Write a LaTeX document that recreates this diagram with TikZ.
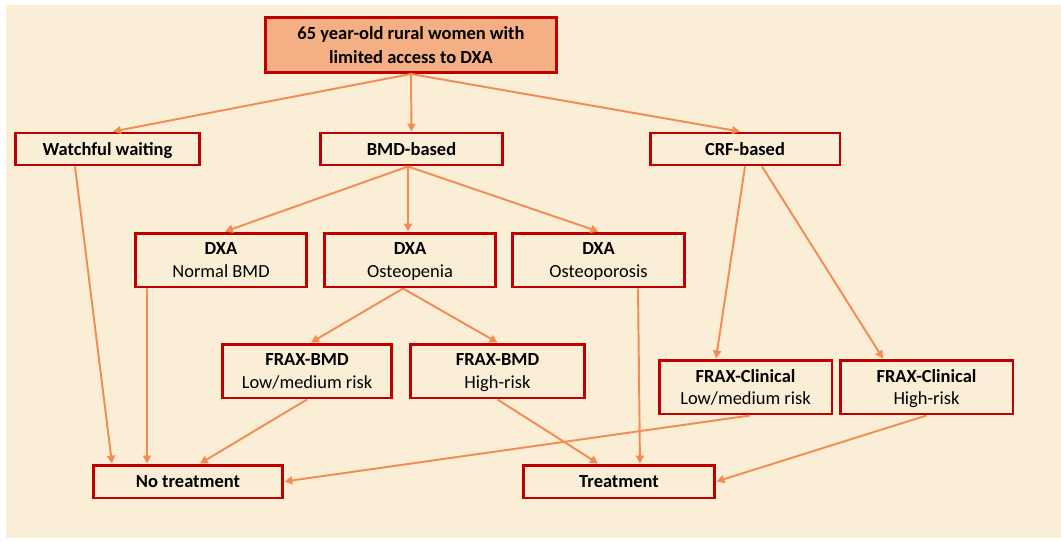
\documentclass[tikz,border=0pt]{standalone}
\usepackage{fontspec}
\setmainfont{Carlito}
\usetikzlibrary{positioning}
\usetikzlibrary{arrows.meta}

\definecolor{bgcream}{RGB}{251,238,214}
\definecolor{boxred}{RGB}{192,0,0}
\definecolor{topfill}{RGB}{244,176,132}
\definecolor{arrorange}{RGB}{243,140,82}

\tikzset{
  box/.style={draw=boxred, line width=1.7pt, inner sep=0pt, align=center, text depth=0pt,
    font=\fontsize{10.5}{12.8}\selectfont, minimum height=1.08cm},
  flat/.style={box, minimum height=0.64cm, text height=8pt, text depth=0.8pt,
    font=\fontsize{10.5}{12.8}\selectfont\bfseries},
  link/.style={draw=arrorange, line width=1.1pt, -{Triangle[length=4.5pt,width=4.5pt]}}
}

\begin{document}
\begin{tikzpicture}[x=0.02cm, y=-0.02cm]
 \useasboundingbox (0,0) rectangle (1061,541);
 \fill[bgcream] (6,5) rectangle (1061,538);

 % top level
 \node[box, fill=topfill, minimum width=5.84cm, minimum height=1.1cm,
   font=\fontsize{10.5}{13.2}\selectfont\bfseries] (women) at (411,45)
   {65 year-old rural women with\\limited access to DXA};

 % strategies
 \node[flat, minimum width=3.7cm] (watch) at (107.5,149) {Watchful waiting};
 \node[flat, minimum width=3.66cm] (bmd) at (411.5,149) {BMD-based};
 \node[flat, minimum width=3.8cm] (crf) at (745,149) {CRF-based};

 % DXA results
 \node[box, minimum width=3.44cm] (normal) at (221,260) {\textbf{DXA}\\Normal BMD};
 \node[box, minimum width=3.44cm] (penia) at (410,260) {\textbf{DXA}\\Osteopenia};
 \node[box, minimum width=3.46cm] (porosis) at (598.5,260) {\textbf{DXA}\\Osteoporosis};

 % FRAX
 \node[box, minimum width=3.4cm] (fbmdlow) at (307,371) {\textbf{FRAX-BMD}\\Low/medium risk};
 \node[box, minimum width=3.5cm] (fbmdhigh) at (497.5,371) {\textbf{FRAX-BMD}\\High-risk};
 \node[box, minimum width=3.46cm] (fcliLow) at (745.5,387) {\textbf{FRAX-Clinical}\\Low/medium risk};
 \node[box, minimum width=3.46cm] (fcliHigh) at (926.5,387) {\textbf{FRAX-Clinical}\\High-risk};

 % outcomes
 \node[flat, minimum width=3.8cm, minimum height=0.66cm] (notreat) at (188,481.5) {No treatment};
 \node[flat, minimum width=3.84cm, minimum height=0.66cm] (treat) at (619,481.5) {Treatment};

 \draw[link] (women.south) -- ([xshift=0.11cm]watch.north);
 \draw[link] (women.south) -- (bmd.north);
 \draw[link] (women.south) -- ([xshift=-0.1cm]crf.north);
 \draw[link] ([xshift=-0.65cm]watch.south) -- ([xshift=-1.52cm]notreat.north);
 \draw[link] ([xshift=-0.07cm]bmd.south) -- ([xshift=0.08cm]normal.north);
 \draw[link] ([xshift=-0.07cm]bmd.south) -- ([xshift=-0.04cm]penia.north);
 \draw[link] ([xshift=-0.07cm]bmd.south) -- (porosis.north);
 \draw[link] (crf.south) -- ([xshift=-0.59cm]fcliLow.north);
 \draw[link] ([xshift=0.34cm]crf.south) -- ([xshift=-0.87cm]fcliHigh.north);
 \draw[link] ([xshift=-1.48cm]normal.south) -- ([xshift=-0.82cm]notreat.north);
 \draw[link] ([xshift=-0.14cm]penia.south) -- ([xshift=0.08cm]fbmdlow.north);
 \draw[link] ([xshift=-0.14cm]penia.south) -- (fbmdhigh.north);
 \draw[link] ([xshift=0.79cm]porosis.south) -- ([xshift=0.42cm]treat.north);
 \draw[link] (fbmdlow.south) -- ([xshift=0.24cm]notreat.north);
 \draw[link] (fbmdhigh.south) -- ([xshift=-0.42cm]treat.north);
 \draw[link] ([xshift=0.09cm]fcliLow.south) -- (notreat.east);
 \draw[link] (fcliHigh.south) -- (treat.east);
\end{tikzpicture}
\end{document}
